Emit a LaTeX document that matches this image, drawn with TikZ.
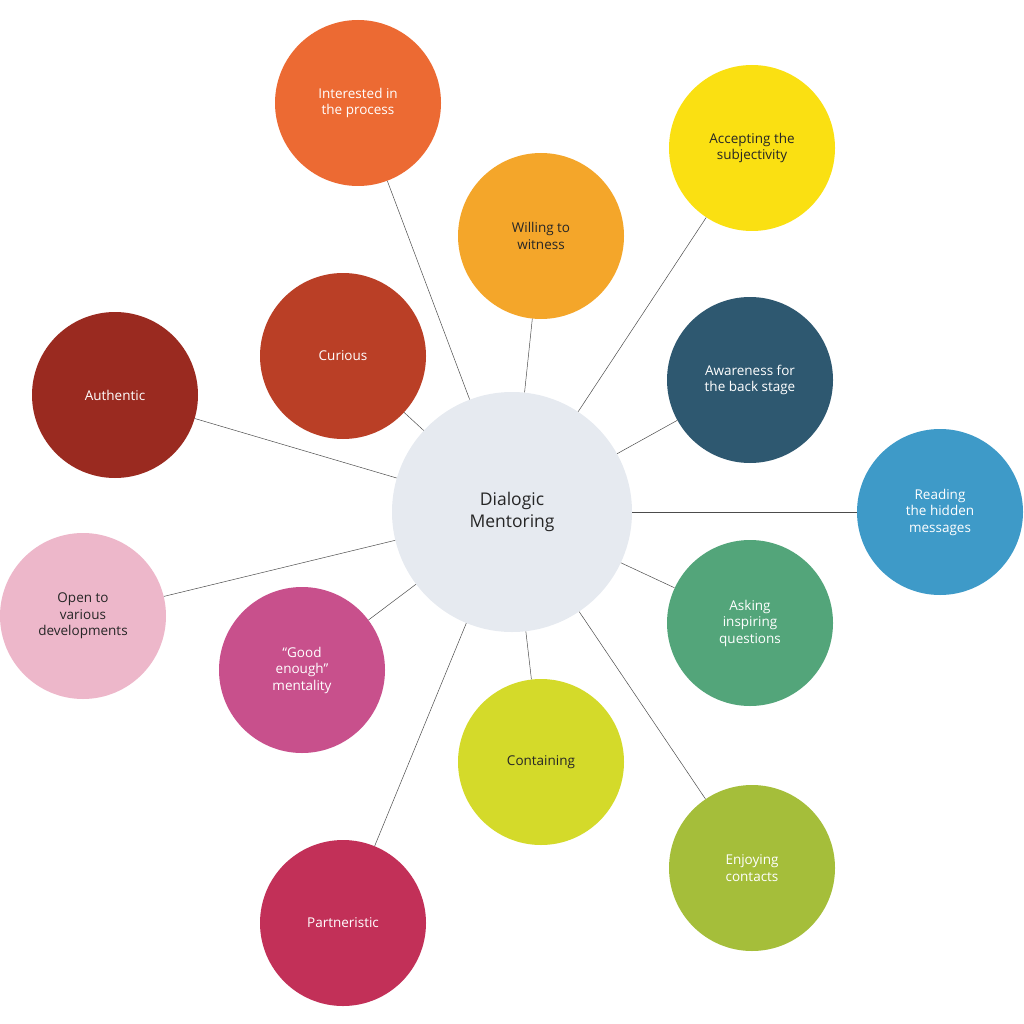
\documentclass[tikz,border=0pt]{standalone}
\usepackage{fontspec}
\setmainfont{Open Sans}
\definecolor{cInt}{HTML}{EC6A33}
\definecolor{cWil}{HTML}{F4A62A}
\definecolor{cAcc}{HTML}{FAE012}
\definecolor{cAwa}{HTML}{2E5870}
\definecolor{cRea}{HTML}{3E9AC8}
\definecolor{cAsk}{HTML}{53A57A}
\definecolor{cEnj}{HTML}{A5BE3A}
\definecolor{cCon}{HTML}{D4DA2A}
\definecolor{cPar}{HTML}{C23058}
\definecolor{cGoo}{HTML}{C8508C}
\definecolor{cOpe}{HTML}{EDB7CA}
\definecolor{cAut}{HTML}{9A2A20}
\definecolor{cCur}{HTML}{BA3F26}
\definecolor{cCen}{HTML}{E6EAF0}
\begin{document}
\begin{tikzpicture}[x=1pt,y=-1pt,
  bub/.style={circle,minimum size=166pt,inner sep=0pt,align=center,font=\fontsize{13.5}{16.5}\selectfont,fill=#1},
  wt/.style={text=white},
  dk/.style={text=black!85},
  link/.style={draw=black!70,line width=0.5pt}]
\useasboundingbox (0,0) rectangle (1024,1024);
\node[circle,minimum size=240pt,fill=cCen,align=center,font=\fontsize{17.5}{22}\selectfont,text=black!85] (c) at (512,512) {Dialogic\\Mentoring};
\node[bub=cInt,wt] (int) at (358,103) {Interested in\\the process};
\node[bub=cWil,dk] (wil) at (541,236) {Willing to\\witness};
\node[bub=cAcc,dk] (acc) at (752,148) {Accepting the\\subjectivity};
\node[bub=cAwa,wt] (awa) at (750,380) {Awareness for\\the back stage};
\node[bub=cRea,wt] (rea) at (940,512) {Reading\\the hidden\\messages};
\node[bub=cAsk,wt] (ask) at (750,623) {Asking\\inspiring\\questions};
\node[bub=cEnj,wt] (enj) at (752,868) {Enjoying\\contacts};
\node[bub=cCon,dk] (con) at (541,762) {Containing};
\node[bub=cPar,wt] (par) at (343,923) {Partneristic};
\node[bub=cGoo,wt] (goo) at (302,670) {“Good\\enough”\\mentality};
\node[bub=cOpe,dk] (ope) at (83,616) {Open to\\various\\developments};
\node[bub=cAut,wt] (aut) at (115,395) {Authentic};
\node[bub=cCur,wt] (cur) at (343,356) {Curious};
\foreach \n in {int,wil,acc,awa,rea,ask,enj,con,par,goo,ope,aut,cur}
  \draw[link] (c) -- (\n);
\end{tikzpicture}
\end{document}
